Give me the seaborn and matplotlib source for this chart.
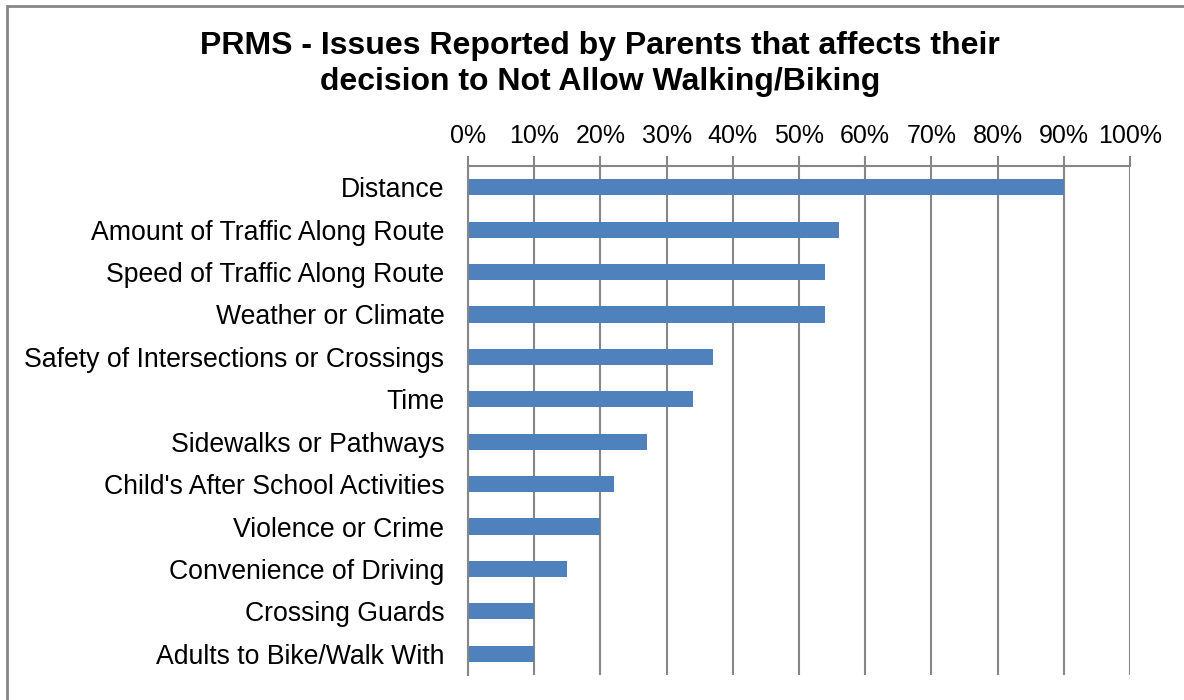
import pandas as pd
import seaborn as sns
import matplotlib
matplotlib.use('Agg')
import matplotlib.pyplot as plt
from matplotlib.patches import Rectangle
from matplotlib.ticker import FixedLocator, PercentFormatter

# data
issues = ['Distance', 'Amount of Traffic Along Route', 'Speed of Traffic Along Route',
          'Weather or Climate', 'Safety of Intersections or Crossings', 'Time',
          'Sidewalks or Pathways', "Child's After School Activities", 'Violence or Crime',
          'Convenience of Driving', 'Crossing Guards', 'Adults to Bike/Walk With']
shares = [90, 56, 54, 54, 37, 34, 27, 22, 20, 15, 10, 10]

df = pd.DataFrame({'issue': issues, 'share': shares})

sns.set_style('white')
plt.rcParams['font.family'] = ['Liberation Sans', 'DejaVu Sans']
plt.rcParams['text.color'] = 'black'
plt.rcParams['xtick.labelcolor'] = 'black'
plt.rcParams['ytick.labelcolor'] = 'black'

fig = plt.figure(figsize=(11.84, 7), dpi=100)
ax = fig.add_axes([468 / 1184, 1 - 675 / 700, (1130 - 468) / 1184, (675 - 166) / 700])

sns.barplot(data=df, x='share', y='issue', orient='h', color='#4f81bd',
            saturation=1, width=0.38, linewidth=0, ax=ax)

ax.set_xlim(0, 100)
ax.set_ylim(len(issues) - 0.5, -0.5)
ax.xaxis.tick_top()
ax.set_xticks(range(0, 101, 10))
ax.xaxis.set_major_formatter(PercentFormatter(decimals=0))
ax.grid(axis='x', color='#868686', linewidth=1.5, zorder=0)
ax.set_axisbelow(True)
ax.set_xlabel('')
ax.set_ylabel('')

# category boundary ticks on the y axis
ax.yaxis.set_minor_locator(FixedLocator([i - 0.5 for i in range(len(issues) + 1)]))
ax.tick_params(axis='y', which='major', length=0, labelsize=19.2, pad=17)
ax.tick_params(axis='y', which='minor', length=7, width=1.5, color='#868686')
ax.tick_params(axis='x', which='major', length=7, width=1.5, color='#868686',
               labelsize=18, pad=6)

for side in ['right', 'bottom']:
    ax.spines[side].set_visible(False)
for side in ['left', 'top']:
    ax.spines[side].set_color('#868686')
    ax.spines[side].set_linewidth(1.5)

fig.text(600 / 1184, 1 - 64 / 700,
         'PRMS - Issues Reported by Parents that affects their\ndecision to Not Allow Walking/Biking',
         ha='center', va='center', fontsize=23, fontweight='bold', linespacing=1.3)

# outer chart frame (only left/top visible in the crop)
fig.patches.append(Rectangle((7 / 1184, -0.1), 1.2, 1 - 6 / 700 + 0.1,
                             transform=fig.transFigure, fill=False,
                             edgecolor='#868686', linewidth=2))

fig.savefig('out.png', dpi=100)
